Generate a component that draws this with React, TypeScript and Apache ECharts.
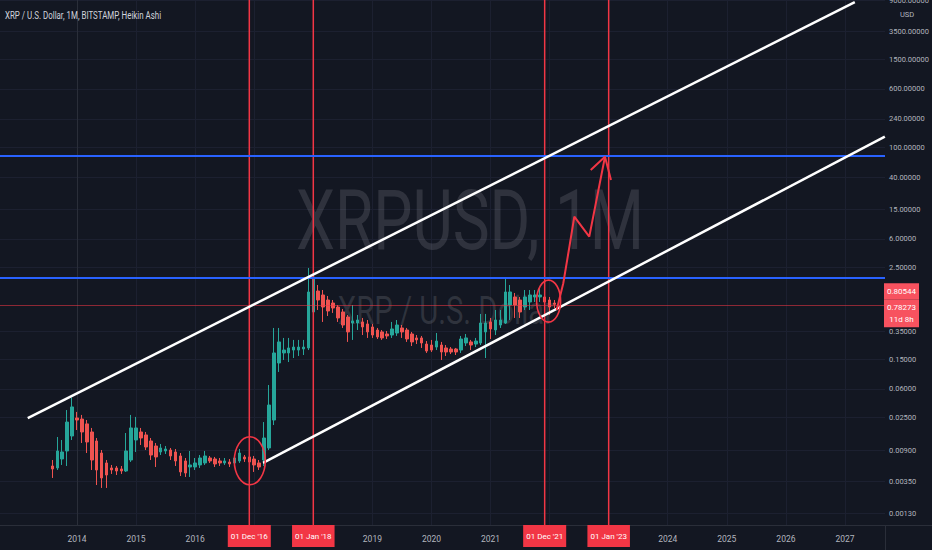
import React, { useEffect, useRef } from "react";
import * as echarts from "echarts";

// ---- data (monthly Heikin Ashi candles, XRPUSD) ----
const months = [
  "2013-08", "2013-09", "2013-10", "2013-11", "2013-12",
  "2014-01", "2014-02", "2014-03", "2014-04", "2014-05", "2014-06", "2014-07", "2014-08", "2014-09", "2014-10", "2014-11", "2014-12",
  "2015-01", "2015-02", "2015-03", "2015-04", "2015-05", "2015-06", "2015-07", "2015-08", "2015-09", "2015-10", "2015-11", "2015-12",
  "2016-01", "2016-02", "2016-03", "2016-04", "2016-05", "2016-06", "2016-07", "2016-08", "2016-09", "2016-10", "2016-11", "2016-12",
  "2017-01", "2017-02", "2017-03", "2017-04", "2017-05", "2017-06", "2017-07", "2017-08", "2017-09", "2017-10", "2017-11", "2017-12",
  "2018-01", "2018-02", "2018-03", "2018-04", "2018-05", "2018-06", "2018-07", "2018-08", "2018-09", "2018-10", "2018-11", "2018-12",
  "2019-01", "2019-02", "2019-03", "2019-04", "2019-05", "2019-06", "2019-07", "2019-08", "2019-09", "2019-10", "2019-11", "2019-12",
  "2020-01", "2020-02", "2020-03", "2020-04", "2020-05", "2020-06", "2020-07", "2020-08", "2020-09", "2020-10", "2020-11", "2020-12",
  "2021-01", "2021-02", "2021-03", "2021-04", "2021-05", "2021-06", "2021-07", "2021-08", "2021-09", "2021-10", "2021-11", "2021-12",
  "2022-01", "2022-02",
];
const opens = [
  0.00563, 0.0053, 0.00698, 0.00893, 0.01415,
  0.0246, 0.0238, 0.0205, 0.016, 0.01213, 0.00839, 0.00618, 0.0053, 0.0053, 0.00514, 0.00483, 0.00677,
  0.01251, 0.016, 0.0146, 0.01213, 0.0104, 0.00866, 0.00893, 0.0092, 0.00866, 0.00766, 0.00657, 0.00546,
  0.00546, 0.00581, 0.00618, 0.0072, 0.00698, 0.00657, 0.00618, 0.00637, 0.00618, 0.00657, 0.00743, 0.00743,
  0.00698, 0.00618, 0.00677, 0.00979, 0.0231, 0.133, 0.181, 0.181, 0.198, 0.198, 0.2045, 0.211,
  0.637, 1.213, 1.073, 0.92, 0.839, 0.742, 0.637, 0.546, 0.454, 0.454, 0.469, 0.441,
  0.402, 0.366, 0.345, 0.324, 0.314, 0.334, 0.39, 0.366, 0.324, 0.287, 0.287, 0.238,
  0.231, 0.217, 0.231, 0.211, 0.2045, 0.2045, 0.198, 0.246, 0.254, 0.238, 0.246, 0.345,
  0.469, 0.366, 0.427, 0.454, 0.789, 1.009, 0.92, 0.742, 0.866, 1.009, 1.009, 1.009,
  0.92, 0.839,
];
const closes = [
  0.00514, 0.00893, 0.00866, 0.0217, 0.0345,
  0.0231, 0.016, 0.01177, 0.00677, 0.00498, 0.0039, 0.00427, 0.00498, 0.00483, 0.00483, 0.00893, 0.0181,
  0.0181, 0.0133, 0.01009, 0.00789, 0.00743, 0.00979, 0.00949, 0.00766, 0.00657, 0.00469, 0.00454, 0.00581,
  0.00618, 0.0072, 0.00766, 0.00657, 0.00599, 0.00618, 0.00657, 0.00599, 0.0072, 0.00839, 0.00698, 0.00637,
  0.00581, 0.00546, 0.0133, 0.0366, 0.181, 0.254, 0.198, 0.211, 0.217, 0.217, 0.217, 1.177,
  1.865, 0.92, 0.742, 0.657, 0.72, 0.53, 0.427, 0.345, 0.483, 0.498, 0.402, 0.345,
  0.314, 0.296, 0.287, 0.305, 0.378, 0.427, 0.345, 0.278, 0.254, 0.27, 0.246, 0.192,
  0.198, 0.261, 0.1865, 0.1865, 0.1865, 0.1865, 0.278, 0.287, 0.231, 0.261, 0.454, 0.454,
  0.378, 0.498, 0.498, 1.177, 1.177, 0.789, 0.637, 1.009, 1.073, 1.073, 1.073, 0.866,
  0.742, 0.80544,
];
const lows = [
  0.0039, 0.00498, 0.00581, 0.00563, 0.01251,
  0.017, 0.01141, 0.00839, 0.00498, 0.00314, 0.00287, 0.00287, 0.00441, 0.00427, 0.00441, 0.00469, 0.00637,
  0.00866, 0.01073, 0.0092, 0.00677, 0.00546, 0.00789, 0.00814, 0.00677, 0.00563, 0.00414, 0.00402, 0.00402,
  0.00498, 0.0053, 0.00581, 0.00618, 0.00546, 0.00563, 0.00581, 0.00546, 0.00581, 0.00618, 0.00637, 0.00563,
  0.00469, 0.00498, 0.00563, 0.0092, 0.0198, 0.101, 0.146, 0.137, 0.155, 0.165, 0.17, 0.198,
  0.62, 0.677, 0.469, 0.563, 0.618, 0.469, 0.39, 0.254, 0.27, 0.366, 0.314, 0.287,
  0.287, 0.278, 0.27, 0.278, 0.287, 0.305, 0.287, 0.254, 0.224, 0.238, 0.211, 0.181,
  0.1865, 0.198, 0.146, 0.165, 0.175, 0.17, 0.181, 0.224, 0.198, 0.217, 0.231, 0.155,
  0.278, 0.314, 0.39, 0.441, 0.498, 0.53, 0.53, 0.677, 0.677, 0.866, 0.866, 0.677,
  0.581, 0.72,
];
const highs = [
  0.00677, 0.01372, 0.01251, 0.0314, 0.046,
  0.0296, 0.027, 0.0231, 0.0181, 0.0133, 0.0092, 0.00677, 0.00581, 0.00563, 0.00563, 0.0155, 0.027,
  0.0254, 0.0181, 0.016, 0.0133, 0.01141, 0.01107, 0.0104, 0.00979, 0.00949, 0.00839, 0.0072, 0.00893,
  0.0072, 0.00789, 0.00893, 0.00766, 0.00743, 0.0072, 0.0072, 0.00698, 0.00766, 0.00949, 0.00789, 0.00789,
  0.00766, 0.00677, 0.0217, 0.0677, 0.39, 0.39, 0.287, 0.287, 0.27, 0.27, 0.27, 2.459,
  2.614, 1.459, 1.251, 1.041, 0.92, 0.789, 0.698, 0.581, 0.789, 0.581, 0.53, 0.498,
  0.441, 0.39, 0.366, 0.355, 0.469, 0.498, 0.427, 0.39, 0.345, 0.314, 0.305, 0.261,
  0.27, 0.334, 0.254, 0.231, 0.217, 0.211, 0.305, 0.324, 0.27, 0.287, 0.6, 0.6,
  0.53, 0.677, 0.677, 1.865, 1.459, 1.141, 1.009, 1.251, 1.251, 1.251, 1.33, 1.141,
  1.009, 0.92,
];

// axis ticks
const yearTickMonths = [0, 12, 24, 36, 48, 60, 72, 84, 96, 108, 120, 132, 144, 156];
const yearLabelMonths = [0, 12, 24, 60, 72, 84, 120, 132, 144, 156];
const yearLabels = ["2014", "2015", "2016", "2019", "2020", "2021", "2024", "2025", "2026", "2027"];
const priceTicks = [9000, 3500, 1500, 600, 240, 100, 40, 15, 6, 2.5, 0.35, 0.15, 0.06, 0.025, 0.009, 0.0035, 0.0013];
const priceMin = 0.00092;
const priceMax = 9204;

// drawings
const markerMonths = [35, 48, 95, 108];
const markerLabels = ["01 Dec '16", "01 Jan '18", "01 Dec '21", "01 Jan '23"];
const levels = [77.8, 1.85];
const upperChannel = [[-10, 0.0245], [158, 8600]];
const lowerChannel = [[37.8, 0.0062], [164.1, 139]];
const arrowPath = [[97.44, 0.677], [98.78, 1.54], [100.14, 5.25], [101.02, 11.9], [104.06, 6.43], [107.25, 74.9]];
const arrowHead = [[104.35, 49.8], [107.25, 74.9], [108.47, 36.6]];
const circleCenters = [[35.1, 0.0066], [95.8, 0.89]];
const lastPrice = 0.78273;
const haClose = 0.80544;
const countdown = "11d 8h";

const monthIndex = (s: string) => {
  const [y, m] = s.split("-").map(Number);
  return (y - 2014) * 12 + (m - 1);
};

const UP = "#26a69a";
const DOWN = "#ef5350";
const BG = "#131722";
const FONT = "Roboto, 'Noto Sans', sans-serif";

export default function App() {
  const ref = useRef<HTMLDivElement>(null);

  useEffect(() => {
    if (!ref.current) return;
    const chart = echarts.init(ref.current, undefined, { renderer: "svg" });

    const candleData = months.map((s, i) => [monthIndex(s), opens[i], closes[i], lows[i], highs[i]]);

    const markerSeries = markerMonths.map((m) => ({
      type: "line",
      data: [[m, priceMin], [m, priceMax]],
      symbol: "none",
      silent: true,
      lineStyle: { color: "#f23645", width: 1.5 },
      z: 4,
    }));

    const option: any = {
      animation: false,
      backgroundColor: BG,
      grid: { left: 0, right: 47, top: 0, bottom: 25, containLabel: false, outerBoundsMode: "none" },
      xAxis: [
        {
          type: "value",
          position: "bottom",
          min: -15.64,
          max: 164.13,
          axisLine: { show: true, lineStyle: { color: "#2a2e39" } },
          axisTick: { show: false, customValues: yearTickMonths },
          splitLine: { show: true, lineStyle: { color: "#1c2030", width: 1 } },
          axisLabel: {
            customValues: yearLabelMonths,
            formatter: (v: number) => {
              const i = yearLabelMonths.indexOf(Math.round(v));
              return i >= 0 ? yearLabels[i] : "";
            },
            color: "#b2b5be",
            fontSize: 8.5,
            fontFamily: FONT,
            margin: 9,
          },
        },
        {
          type: "value",
          position: "bottom",
          min: -15.64,
          max: 164.13,
          axisLine: { show: false },
          axisTick: { show: false },
          splitLine: { show: false },
          axisLabel: {
            customValues: markerMonths,
            formatter: (v: number) => {
              const i = markerMonths.indexOf(Math.round(v));
              return i >= 0 ? markerLabels[i] : "";
            },
            color: "#ffffff",
            fontSize: 8,
            fontFamily: FONT,
            lineHeight: 10,
            backgroundColor: "#f23645",
            padding: [6, 3, 6, 3],
            margin: 0,
          },
        },
      ],
      yAxis: {
        type: "log",
        position: "right",
        min: priceMin,
        max: priceMax,
        axisLine: { show: true, lineStyle: { color: "#2a2e39" } },
        axisTick: { show: false, customValues: priceTicks },
        splitLine: { show: true, lineStyle: { color: "#1c2030", width: 1 } },
        axisLabel: {
          customValues: priceTicks,
          formatter: (v: number) => v.toFixed(5),
          color: "#b2b5be",
          fontSize: 7.5,
          fontFamily: FONT,
          margin: 4,
        },
      },
      series: [
        {
          type: "candlestick",
          data: candleData,
          encode: { x: 0, y: [1, 2, 3, 4] },
          barWidth: 3,
          itemStyle: {
            color: UP,
            color0: DOWN,
            borderColor: UP,
            borderColor0: DOWN,
            borderWidth: 1,
          },
          markLine: {
            silent: true,
            symbol: ["none", "none"],
            label: { show: false },
            data: [
              ...levels.map((l) => ({ yAxis: l, lineStyle: { color: "#2962ff", width: 2, type: "solid" } })),
              { yAxis: lastPrice, lineStyle: { color: "rgba(242,54,69,0.55)", width: 1, type: "solid" } },
            ],
          },
          z: 2,
        },
        ...markerSeries,
        {
          type: "line",
          data: upperChannel,
          symbol: "none",
          lineStyle: { color: "#ffffff", width: 2.5 },
          z: 5,
        },
        {
          type: "line",
          data: lowerChannel,
          symbol: "none",
          lineStyle: { color: "#ffffff", width: 2.5 },
          z: 5,
        },
        {
          type: "line",
          data: arrowPath,
          symbol: "none",
          lineStyle: { color: "#f23645", width: 2 },
          z: 6,
        },
        {
          type: "line",
          data: arrowHead,
          symbol: "none",
          lineStyle: { color: "#f23645", width: 2 },
          z: 6,
        },
      ],
    };
    chart.setOption(option);

    const px = (p: number[]) => chart.convertToPixel({ xAxisIndex: 0, yAxisIndex: 0 }, p) as number[];
    const c1 = px(circleCenters[0]);
    const c2 = px(circleCenters[1]);
    const yLast = px([0, lastPrice])[1];
    const axisX = px([164.13, lastPrice])[0];

    chart.setOption({
      graphic: [
        {
          type: "text",
          x: 470,
          y: 220,
          scaleX: 0.74,
          z: 0,
          silent: true,
          style: {
            text: "XRPUSD, 1M",
            fill: "rgba(149,152,161,0.22)",
            fontSize: 84,
            fontFamily: "Roboto",
            align: "center",
            verticalAlign: "middle",
          },
        },
        {
          type: "text",
          x: 446,
          y: 311,
          scaleX: 0.77,
          z: 0,
          silent: true,
          style: {
            text: "XRP / U.S. Dollar",
            fill: "rgba(149,152,161,0.22)",
            fontSize: 38,
            fontFamily: "Roboto",
            align: "center",
            verticalAlign: "middle",
          },
        },
        {
          type: "text",
          x: 5,
          y: 15,
          scaleX: 0.72,
          z: 100,
          style: {
            text: "XRP / U.S. Dollar, 1M, BITSTAMP, Heikin Ashi",
            fill: "#d1d4dc",
            fontSize: 11,
            fontFamily: "Roboto",
            verticalAlign: "middle",
          },
        },
        {
          type: "text",
          x: axisX + 22,
          y: 14.5,
          z: 100,
          style: { text: "USD", fill: "#b2b5be", fontSize: 7.5, fontFamily: FONT, align: "center", verticalAlign: "middle" },
        },
        {
          type: "line",
          z: 100,
          shape: { x1: axisX, y1: 525.5, x2: 932, y2: 525.5 },
          style: { stroke: "#2a2e39", lineWidth: 1 },
        },
        {
          type: "line",
          z: 100,
          shape: { x1: axisX + 0.5, y1: 525, x2: axisX + 0.5, y2: 550 },
          style: { stroke: "#2a2e39", lineWidth: 1 },
        },
        {
          type: "ellipse",
          z: 100,
          shape: { cx: c1[0], cy: c1[1], rx: 15.5, ry: 24 },
          style: { fill: "none", stroke: "#f23645", lineWidth: 1.6 },
        },
        {
          type: "ellipse",
          z: 100,
          shape: { cx: c2[0], cy: c2[1], rx: 12, ry: 21 },
          style: { fill: "none", stroke: "#f23645", lineWidth: 1.6 },
        },
        {
          type: "rect",
          z: 100,
          shape: { x: axisX - 1, y: yLast - 22, width: 35, height: 16 },
          style: { fill: "#f7525f" },
        },
        {
          type: "text",
          z: 101,
          x: axisX + 16.5,
          y: yLast - 14,
          style: { text: haClose.toFixed(5), fill: "#ffffff", fontSize: 8, fontFamily: FONT, align: "center", verticalAlign: "middle" },
        },
        {
          type: "rect",
          z: 100,
          shape: { x: axisX - 1, y: yLast - 6, width: 35, height: 28 },
          style: { fill: "#f7525f" },
        },
        {
          type: "text",
          z: 101,
          x: axisX + 16.5,
          y: yLast + 2,
          style: { text: lastPrice.toFixed(5), fill: "#ffffff", fontSize: 8, fontFamily: FONT, align: "center", verticalAlign: "middle" },
        },
        {
          type: "text",
          z: 101,
          x: axisX + 16.5,
          y: yLast + 14,
          style: { text: countdown, fill: "#ffffff", fontSize: 8, fontFamily: FONT, align: "center", verticalAlign: "middle" },
        },
      ],
    });

    return () => chart.dispose();
  }, []);

  return (
    <div
      ref={ref}
      style={{ position: "absolute", left: 0, top: 0, width: 932, height: 550 }}
    />
  );
}
